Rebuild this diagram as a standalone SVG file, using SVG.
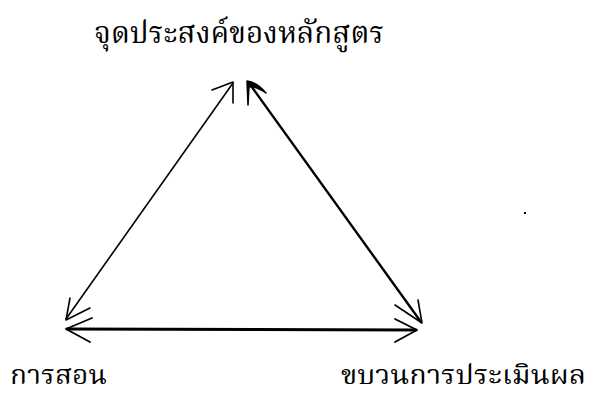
<svg xmlns="http://www.w3.org/2000/svg" width="592" height="396" viewBox="0 0 592 396">
<style>
.t{font-family:"Noto Serif Thai","Noto Sans Thai","Tlwg Typo","Loma","Garuda","Noto Sans","DejaVu Sans",sans-serif;fill:#000}
.l{stroke:#000;fill:none;stroke-linecap:round;stroke-linejoin:round}
</style>
<rect width="592" height="396" fill="#fff"/>
<g id="node-top"><text class="t" x="94" y="43" font-size="30" textLength="290" lengthAdjust="spacingAndGlyphs">จุดประสงค์ของหลักสูตร</text></g>
<g id="node-left"><text class="t" x="10" y="384" font-size="26" textLength="97" lengthAdjust="spacingAndGlyphs">การสอน</text></g>
<g id="node-right"><text class="t" x="341" y="384" font-size="26" textLength="245" lengthAdjust="spacingAndGlyphs">ขบวนการประเมินผล</text></g>
<g id="connectors">
<g id="left-edge">
<line class="l" x1="66" y1="319" x2="233" y2="83" stroke-width="1.6"/>
<polyline class="l" points="212,90 233,82 233,103" stroke-width="1.6"/>
<polyline class="l" points="70,298 66,320 90,308" stroke-width="1.6"/>
</g>
<g id="right-edge">
<line class="l" x1="249" y1="83" x2="421" y2="322" stroke-width="2.4"/>
<path d="M248,105 L247,81 Q257,82 266,93 Q256,86 249,87 Z" fill="#000" stroke="#000" stroke-width="1.5" stroke-linejoin="round"/>
<polyline class="l" points="395,305 422,323 418,300" stroke-width="1.6"/>
</g>
<g id="bottom-edge">
<line class="l" x1="67" y1="329" x2="416" y2="330" stroke-width="3"/>
<polyline class="l" points="92,318 66,329 90,342" stroke-width="1.8"/>
<polyline class="l" points="395,319 417,330 395,342" stroke-width="1.8"/>
</g>
</g>
<rect x="524" y="212" width="2" height="2" fill="#000"/>
</svg>
